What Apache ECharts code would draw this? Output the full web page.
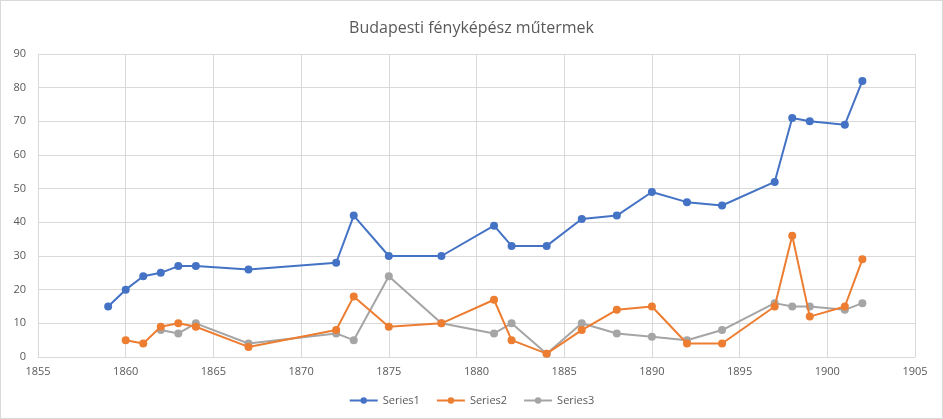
<!DOCTYPE html>
<html>
<head>
<meta charset="utf-8">
<script src="https://cdn.jsdelivr.net/npm/echarts@6/dist/echarts.min.js"></script>
<style>
  html, body { margin: 0; padding: 0; background: #fff; }
  #chart { width: 943px; height: 419px; box-sizing: border-box; border: 1px solid #d9d9d9; }
</style>
</head>
<body>
<div id="chart"></div>
<script>
// years and counts
const years1 = [1859, 1860, 1861, 1862, 1863, 1864, 1867, 1872, 1873, 1875, 1878, 1881, 1882, 1884, 1886, 1888, 1890, 1892, 1894, 1897, 1898, 1899, 1901, 1902];
const series1 = [15, 20, 24, 25, 27, 27, 26, 28, 42, 30, 30, 39, 33, 33, 41, 42, 49, 46, 45, 52, 71, 70, 69, 82];

const years2 = [1860, 1861, 1862, 1863, 1864, 1867, 1872, 1873, 1875, 1878, 1881, 1882, 1884, 1886, 1888, 1890, 1892, 1894, 1897, 1898, 1899, 1901, 1902];
const series2 = [5, 4, 9, 10, 9, 3, 8, 18, 9, 10, 17, 5, 1, 8, 14, 15, 4, 4, 15, 36, 12, 15, 29];

const years3 = [1862, 1863, 1864, 1867, 1872, 1873, 1875, 1878, 1881, 1882, 1884, 1886, 1888, 1890, 1892, 1894, 1897, 1898, 1899, 1901, 1902];
const series3 = [8, 7, 10, 4, 7, 5, 24, 10, 7, 10, 1, 10, 7, 6, 5, 8, 16, 15, 15, 14, 16];

const names = ["Series1", "Series2", "Series3"];
const colors = ["#4472C4", "#ED7D31", "#A5A5A5"];

function pairs(xs, ys) {
  return xs.map((x, i) => [x, ys[i]]);
}

let myChart = echarts.init(document.getElementById("chart"));
const font = "'Open Sans', 'Noto Sans', sans-serif";
myChart.setOption({
  animation: false,
  color: colors,
  textStyle: { fontFamily: font },
  title: {
    text: "Budapesti fényképész műtermek",
    left: "center",
    top: 14,
    textStyle: { fontSize: 16, fontWeight: "normal", color: "#595959", fontFamily: font },
  },
  legend: {
    data: names,
    bottom: 7,
    left: "center",
    itemWidth: 28,
    itemHeight: 8,
    itemGap: 16,
    textStyle: { fontSize: 11, color: "#595959" },
  },
  grid: { left: 37, right: 27, top: 53, bottom: 61 },
  xAxis: {
    type: "value",
    min: 1855,
    max: 1905,
    interval: 5,
    axisLine: { show: true, lineStyle: { color: "#d9d9d9" } },
    axisTick: { show: false },
    axisLabel: { color: "#595959", fontSize: 11, margin: 9, formatter: (v) => String(v) },
    splitLine: { show: true, lineStyle: { color: "#d9d9d9" } },
  },
  yAxis: {
    type: "value",
    min: 0,
    max: 90,
    interval: 10,
    axisLine: { show: false },
    axisTick: { show: false },
    axisLabel: { color: "#595959", fontSize: 11, margin: 12 },
    splitLine: { show: true, lineStyle: { color: "#d9d9d9" } },
  },
  series: [
    { name: names[0], type: "line", data: pairs(years1, series1) },
    { name: names[1], type: "line", data: pairs(years2, series2) },
    { name: names[2], type: "line", data: pairs(years3, series3) },
  ].map((s, i) => Object.assign(s, {
    symbol: "circle",
    symbolSize: 8,
    lineStyle: { width: 2, color: colors[i] },
    itemStyle: { color: colors[i] },
    z: 3 - i,
  })),
});
</script>
</body>
</html>
